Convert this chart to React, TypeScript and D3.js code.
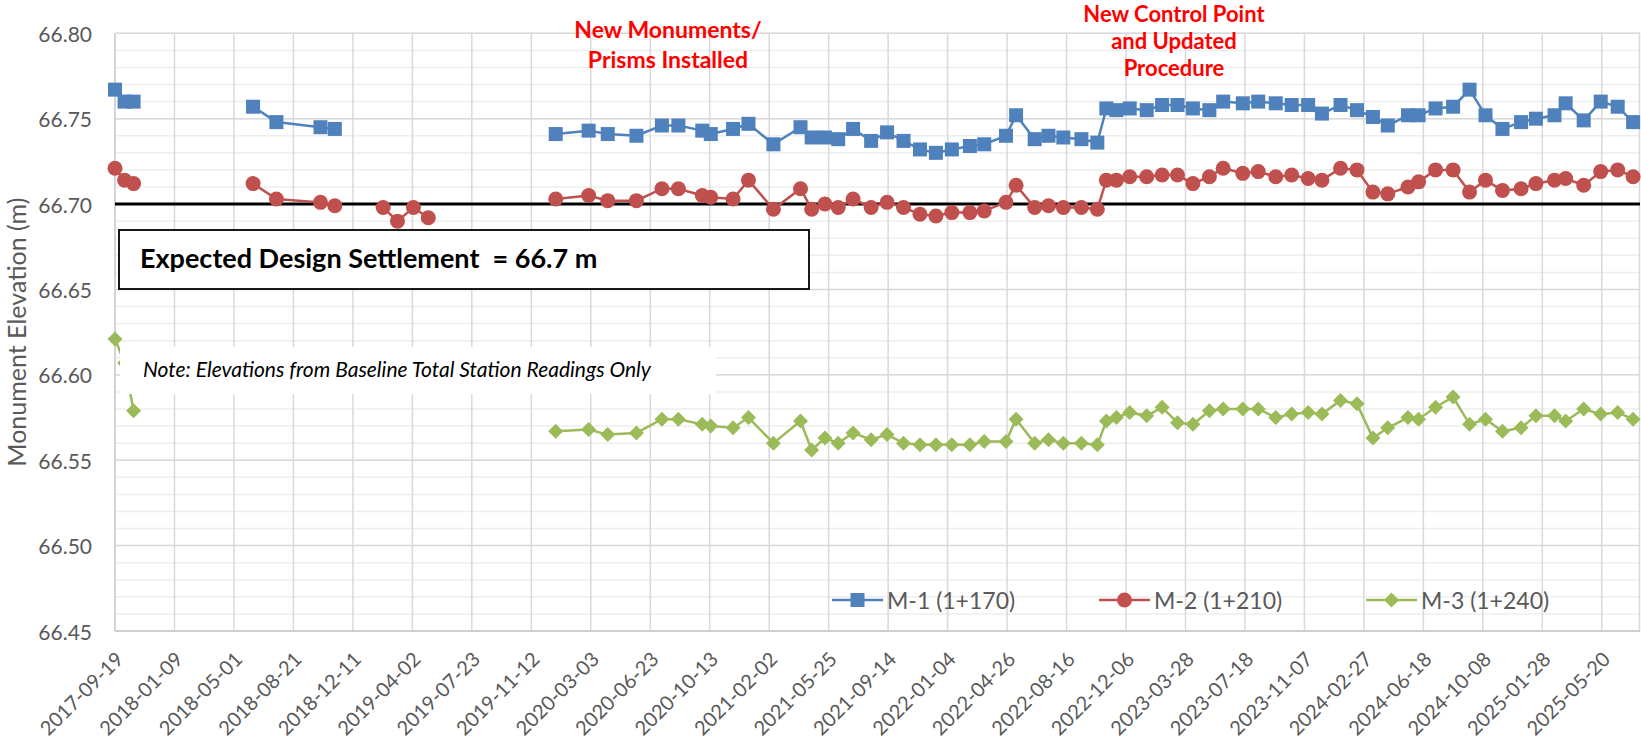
import React from 'react';
import * as d3 from 'd3';

// Survey dates (rows with all-null values mark gaps between survey campaigns)
const dates: string[] = [
  '2017-09-19', '2017-10-07', '2017-10-24', '2018-02-01',
  '2018-06-06', '2018-07-20', '2018-10-11', '2018-11-07', '2018-12-20',
  '2019-02-06', '2019-03-05', '2019-04-04', '2019-05-02', '2019-08-01',
  '2019-12-28', '2020-02-28', '2020-04-04', '2020-05-28', '2020-07-15', '2020-08-15', '2020-09-29', '2020-10-15',
  '2020-11-26', '2020-12-25', '2021-02-10', '2021-04-02', '2021-04-23', '2021-05-18', '2021-06-12', '2021-07-10',
  '2021-08-13', '2021-09-12', '2021-10-13', '2021-11-13', '2021-12-13', '2022-01-12', '2022-02-15', '2022-03-14',
  '2022-04-24', '2022-05-13', '2022-06-17', '2022-07-13', '2022-08-10', '2022-09-13', '2022-10-13', '2022-10-30',
  '2022-11-18', '2022-12-13', '2023-01-14', '2023-02-12', '2023-03-13', '2023-04-11', '2023-05-12', '2023-06-07',
  '2023-07-14', '2023-08-12', '2023-09-14', '2023-10-14', '2023-11-14', '2023-12-10', '2024-01-14', '2024-02-14',
  '2024-03-15', '2024-04-12', '2024-05-20', '2024-06-09', '2024-07-11', '2024-08-13', '2024-09-13', '2024-10-13',
  '2024-11-14', '2024-12-19', '2025-01-16', '2025-02-20', '2025-03-13', '2025-04-16', '2025-05-18', '2025-06-19',
  '2025-07-18',
];

const m1: (number | null)[] = [
  66.767, 66.760, 66.760, null,
  66.757, 66.748, 66.745, 66.744, null,
  null, null, null, null, null,
  66.741, 66.743, 66.741, 66.740, 66.746, 66.746, 66.743, 66.741,
  66.744, 66.747, 66.735, 66.745, 66.739, 66.739, 66.738, 66.744,
  66.737, 66.742, 66.737, 66.732, 66.730, 66.732, 66.734, 66.735,
  66.740, 66.752, 66.738, 66.740, 66.739, 66.738, 66.736, 66.756,
  66.755, 66.756, 66.755, 66.758, 66.758, 66.756, 66.755, 66.760,
  66.759, 66.760, 66.759, 66.758, 66.758, 66.753, 66.758, 66.755,
  66.751, 66.746, 66.752, 66.752, 66.756, 66.757, 66.767, 66.752,
  66.744, 66.748, 66.750, 66.752, 66.759, 66.749, 66.760, 66.757,
  66.748,
];

const m2: (number | null)[] = [
  66.721, 66.714, 66.712, null,
  66.712, 66.703, 66.701, 66.699, null,
  66.698, 66.690, 66.698, 66.692, null,
  66.703, 66.705, 66.702, 66.702, 66.709, 66.709, 66.705, 66.704,
  66.703, 66.714, 66.697, 66.709, 66.697, 66.700, 66.698, 66.703,
  66.698, 66.701, 66.698, 66.694, 66.693, 66.695, 66.695, 66.696,
  66.701, 66.711, 66.698, 66.699, 66.698, 66.698, 66.697, 66.714,
  66.714, 66.716, 66.716, 66.717, 66.717, 66.712, 66.716, 66.721,
  66.718, 66.719, 66.716, 66.717, 66.715, 66.714, 66.721, 66.720,
  66.707, 66.706, 66.710, 66.713, 66.720, 66.720, 66.707, 66.714,
  66.708, 66.709, 66.712, 66.714, 66.715, 66.711, 66.719, 66.720,
  66.716,
];

const m3: (number | null)[] = [
  66.621, 66.607, 66.579, null,
  null, null, null, null, null,
  null, null, null, null, null,
  66.567, 66.568, 66.565, 66.566, 66.574, 66.574, 66.571, 66.570,
  66.569, 66.575, 66.560, 66.573, 66.556, 66.563, 66.560, 66.566,
  66.562, 66.565, 66.560, 66.559, 66.559, 66.559, 66.559, 66.561,
  66.561, 66.574, 66.560, 66.562, 66.560, 66.560, 66.559, 66.573,
  66.575, 66.578, 66.576, 66.581, 66.572, 66.571, 66.579, 66.580,
  66.580, 66.580, 66.575, 66.577, 66.578, 66.577, 66.585, 66.583,
  66.563, 66.569, 66.575, 66.574, 66.581, 66.587, 66.571, 66.574,
  66.567, 66.569, 66.576, 66.576, 66.573, 66.580, 66.577, 66.578,
  66.574,
];

const xTickLabels: string[] = [
  '2017-09-19', '2018-01-09', '2018-05-01', '2018-08-21', '2018-12-11', '2019-04-02', '2019-07-23',
  '2019-11-12', '2020-03-03', '2020-06-23', '2020-10-13', '2021-02-02', '2021-05-25', '2021-09-14',
  '2022-01-04', '2022-04-26', '2022-08-16', '2022-12-06', '2023-03-28', '2023-07-18', '2023-11-07',
  '2024-02-27', '2024-06-18', '2024-10-08', '2025-01-28', '2025-05-20',
];
const xDomain: string[] = ['2017-09-19', '2025-07-31'];
const yTicks: number[] = [66.45, 66.5, 66.55, 66.6, 66.65, 66.7, 66.75, 66.8];
const yMinorStep = 0.01;
const seriesNames: string[] = ['M-1 (1+170)', 'M-2 (1+210)', 'M-3 (1+240)'];
const designElevation = 66.7;
const designLabel = 'Expected Design Settlement  = 66.7 m';
const noteLabel = 'Note: Elevations from Baseline Total Station Readings Only';
const annotation1: string[] = ['New Monuments/', 'Prisms Installed'];
const annotation2: string[] = ['New Control Point', 'and Updated', 'Procedure'];

const W = 1641;
const H = 740;
const L = 115;
const R = 1640;
const T = 33.3;
const B = 631;
const FONT = 'Lato, "Open Sans", sans-serif';
const colors = ['#4F81BD', '#C0504D', '#9BBB59'];
const axisText = '#595959';

function Marker({ kind, x, y, color }: { kind: number; x: number; y: number; color: string }) {
  if (kind === 0) return <rect x={x - 7} y={y - 7} width={14} height={14} fill={color} />;
  if (kind === 1) return <circle cx={x} cy={y} r={7.5} fill={color} />;
  const s = 7.5;
  return <path d={`M${x},${y - s}L${x + s},${y}L${x},${y + s}L${x - s},${y}Z`} fill={color} />;
}

export default function App() {
  const parse = d3.utcParse('%Y-%m-%d');
  const dts = dates.map((d) => parse(d) as Date);
  const x = d3
    .scaleUtc()
    .domain(xDomain.map((d) => parse(d) as Date))
    .range([L, R]);
  const y = d3.scaleLinear().domain([66.45, 66.8]).range([B, T]);
  const minor = d3.range(66.45, 66.8 + 1e-9, yMinorStep);
  const series = [m1, m2, m3];

  const line = d3
    .line<[Date, number | null]>()
    .defined((d) => d[1] != null)
    .x((d) => x(d[0]))
    .y((d) => y(d[1] as number));

  const legendX = [832, 1099, 1366];
  const legendY = 600;

  return (
    <div style={{ position: 'absolute', left: 0, top: 0 }}>
      <svg width={W} height={H} style={{ display: 'block', fontFamily: FONT }}>
        <rect x={0} y={0} width={W} height={H} fill="#fff" />
        {/* minor horizontal grid */}
        {minor.map((v, i) => (
          <line key={'mn' + i} x1={L} x2={R} y1={y(v)} y2={y(v)} stroke="#EEEEEE" strokeWidth={1.5} />
        ))}
        {/* major horizontal grid */}
        {yTicks.map((v) => (
          <line key={'mj' + v} x1={L} x2={R} y1={y(v)} y2={y(v)} stroke="#D9D9D9" strokeWidth={1.5} />
        ))}
        {/* vertical grid */}
        {xTickLabels.map((d) => {
          const gx = x(parse(d) as Date);
          return <line key={'vg' + d} x1={gx} x2={gx} y1={T} y2={B} stroke="#D9D9D9" strokeWidth={1.5} />;
        })}
        <line x1={R - 0.5} x2={R - 0.5} y1={T} y2={B} stroke="#D9D9D9" strokeWidth={1.5} />
        {/* axes */}
        <line x1={L} x2={L} y1={T} y2={B} stroke="#CFCFCF" strokeWidth={1.5} />
        <line x1={L} x2={R} y1={B} y2={B} stroke="#C8C8C8" strokeWidth={1.5} />
        {/* y tick labels */}
        {yTicks.map((v) => (
          <text key={'yl' + v} x={92} y={y(v)} textAnchor="end" dominantBaseline="central" fontSize={21} fill={axisText}>
            {v.toFixed(2)}
          </text>
        ))}
        {/* x tick labels */}
        {xTickLabels.map((d) => {
          const gx = x(parse(d) as Date);
          return (
            <text
              key={'xl' + d}
              transform={`translate(${gx + 4},${B + 24}) rotate(-45)`}
              textAnchor="end"
              dominantBaseline="central"
              fontSize={20}
              fill={axisText}
            >
              {d}
            </text>
          );
        })}
        {/* y axis title */}
        <text
          transform={`translate(16,${(T + B) / 2}) rotate(-90)`}
          textAnchor="middle"
          dominantBaseline="central"
          fontSize={25}
          fill={axisText}
        >
          Monument Elevation (m)
        </text>
        {/* design line */}
        <line x1={L} x2={R} y1={y(designElevation)} y2={y(designElevation)} stroke="#000" strokeWidth={3} />
        {/* series */}
        {series.map((vals, si) => {
          const pts = dts.map((d, i) => [d, vals[i]] as [Date, number | null]);
          return (
            <g key={'s' + si}>
              <path d={line(pts) || ''} fill="none" stroke={colors[si]} strokeWidth={2.5} />
              {pts
                .filter((p) => p[1] != null)
                .map((p, i) => (
                  <Marker key={i} kind={si} x={x(p[0])} y={y(p[1] as number)} color={colors[si]} />
                ))}
            </g>
          );
        })}
        {/* design settlement box */}
        <rect x={119} y={230} width={690} height={59} fill="#fff" stroke="#000" strokeWidth={1.8} />
        <text x={140} y={268} fontSize={27} fontWeight="bold" fill="#000" xmlSpace="preserve" style={{ whiteSpace: 'pre' }}>
          {designLabel}
        </text>
        {/* note box */}
        <rect x={120} y={347} width={596} height={47} fill="#fff" />
        <text x={143} y={377} fontSize={21} fontStyle="italic" fill="#000">
          {noteLabel}
        </text>
        {/* annotations */}
        <text textAnchor="middle" fontSize={23} fontWeight="bold" fill="#FF0000">
          {annotation1.map((t, i) => (
            <tspan key={i} x={668} y={38 + i * 30}>
              {t}
            </tspan>
          ))}
        </text>
        <text textAnchor="middle" fontSize={22} fontWeight="bold" fill="#FF0000">
          {annotation2.map((t, i) => (
            <tspan key={i} x={1174} y={22 + i * 27}>
              {t}
            </tspan>
          ))}
        </text>
        {/* legend */}
        {seriesNames.map((name, si) => {
          const lx = legendX[si];
          return (
            <g key={'lg' + si}>
              <line x1={lx} x2={lx + 51} y1={legendY} y2={legendY} stroke={colors[si]} strokeWidth={2.5} />
              <Marker kind={si} x={lx + 25.5} y={legendY} color={colors[si]} />
              <text x={lx + 55} y={legendY} dominantBaseline="central" fontSize={23} fill={axisText}>
                {name}
              </text>
            </g>
          );
        })}
      </svg>
    </div>
  );
}
